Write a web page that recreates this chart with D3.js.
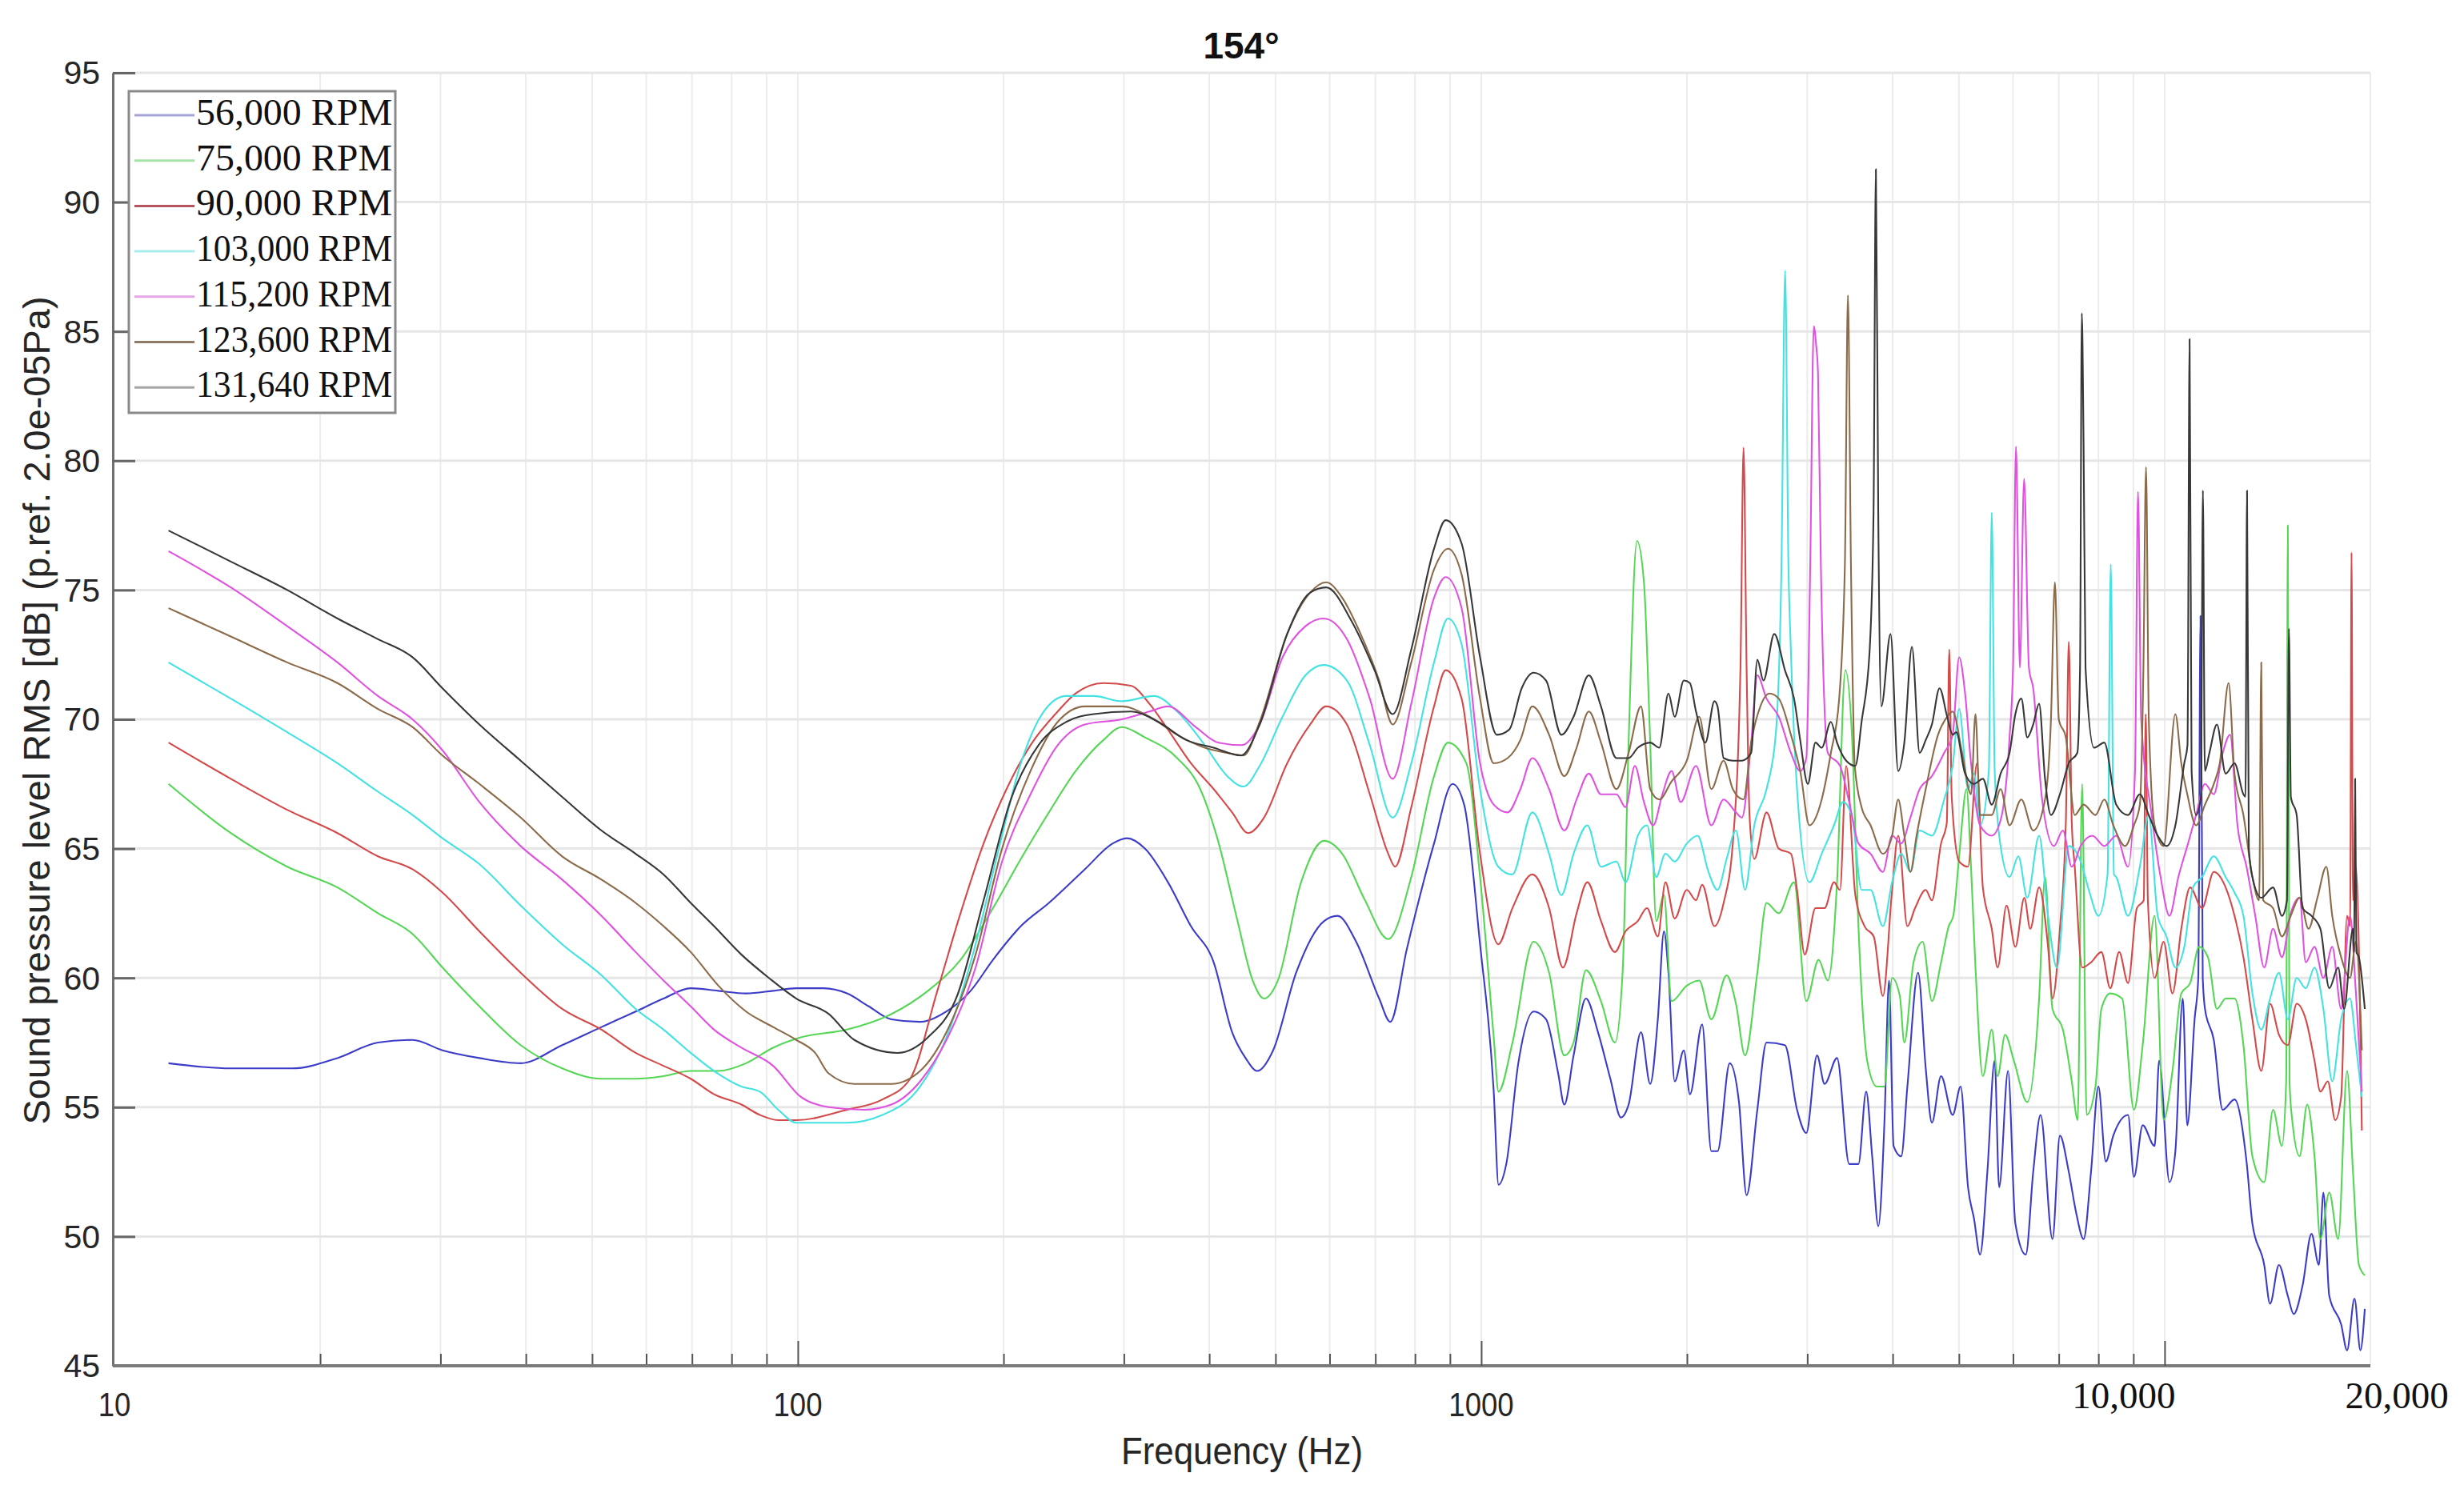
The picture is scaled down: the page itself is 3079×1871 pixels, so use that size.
<!DOCTYPE html>
<html><head><meta charset="utf-8">
<script src="https://cdn.jsdelivr.net/npm/d3@7"></script>
<style>
html,body{margin:0;padding:0;background:#fff;}
svg{display:block;}
</style></head><body>
<svg id="chart" width="3079" height="1871"></svg>
<script>
const title = "154°";
const xAxisTitle = "Frequency (Hz)";
const yAxisTitle = "Sound pressure level RMS [dB] (p.ref. 2.0e-05Pa)";
const categories = ["56,000 RPM","75,000 RPM","90,000 RPM","103,000 RPM","115,200 RPM","123,600 RPM","131,640 RPM"];
const yTickValues = [45,50,55,60,65,70,75,80,85,90,95];
const yTickLabels = ["45","50","55","60","65","70","75","80","85","90","95"];
const xTickValues = [10,100,1000,10000,20000];
const xTickLabels = ["10","100","1000","10,000","20,000"];

// [frequency Hz, dB]
const rpm56000 = [[12,56.7],[14.8,56.5],[18.2,56.5],[21.2,56.9],[24.3,57.5],[27.3,57.6],[30.2,57.2],[34.2,56.9],[39.3,56.7],[45.2,57.4],[51.6,58.1],[57.9,58.7],[63.6,59.2],[69.7,59.6],[76.5,59.5],[84,59.4],[92,59.5],[99.5,59.6],
[109,59.6],[118,59.4],[127,58.9],[137,58.4],[151,58.3],[165,58.7],[179,59.5],[193,60.7],[212,62.0],[233,62.9],[263,64.2],[289,65.2],[303,65.4],[322,65.0],[348,63.7],[376,62.0],[406,60.6],[432,57.9],[452,56.9],[470,56.4],[496,57.2],[536,60.2],[589,62.2],[616,62.4],[656,61.4],[709,59.2],[736,58.3],[778,61.1],[853,65.2],[908,67.5],[944,66.7],[996,61.3],[1043,55.6],
[1060,52.0],[1088,52.8],[1133,56.7],[1193,58.7],[1244,58.4],[1296,56.3],[1323,55.1],[1365,57.0],[1423,59.2],[1482,57.9],[1545,56.1],[1601,54.6],[1643,55.1],[1713,57.9],[1767,55.9],[1813,58.4],[1851,61.8],[1879,60.2],[1919,56.0],[1979,57.2],[2020,55.5],[2105,58.2],[2171,53.3],[2217,53.3],[2310,56.7],[2383,55.2],[2445,51.6],[2535,54.9],[2615,57.5],[2782,57.4],[2898,54.9],[2990,54.0],[3100,57.0],[3180,55.9],[3316,56.9],[3455,52.8],[3564,52.8],[3658,55.6],[3733,53.1],[3811,50.4],[3890,54.4],[3951,59.9],[4012,53.5],[4117,53.1],[4203,55.8],[4357,60.2],[4471,56.5],[4565,54.4],[4708,56.2],[4896,54.7],
[5029,55.8],[5156,51.9],[5260,50.7],[5369,49.3],[5503,52.5],[5640,56.8],[5726,51.9],[5900,56.4],[6047,50.5],[6264,49.3],[6422,52.5],[6584,54.7],[6853,49.9],[7026,53.9],[7240,52.5],[7424,50.9],[7611,49.9],[7803,52.5],[8000,55.8],[8202,52.9],[8411,53.9],[8840,54.7],[9018,52.3],[9287,54.3],[9668,53.5],[9817,56.8],[10165,52.1],[10368,53.3],[10630,59.2],[10793,54.3],[11062,58.4],[11200,60],[11285,74],[11370,60],[11456,58.8],[11801,57.6],[12160,54.9],[12655,55.3],[13177,52.9],[13440,50.5],[13986,48.9],[14265,47.4],[14699,48.9],[15144,47.7],[15447,47.0],[15915,48.1],[16401,50.1],[16815,48.9],[17071,51.7],[17415,47.7],[18125,46.6],[18490,45.6],[18958,47.6],[19339,45.6],[19629,47.2]];

const rpm75000 = [[12,67.5],[14.8,65.6],[17.9,64.3],[21.2,63.5],[24.3,62.5],[27.3,61.7],[30.2,60.4],[34.2,58.9],[39.3,57.4],[45.2,56.5],[51.6,56.1],[57.9,56.1],[63.6,56.2],[69.7,56.4],[76.5,56.4],[84,56.7],[92,57.3],[101,57.7],
[118,58.0],[137,58.6],[155,59.5],[173,60.7],[193,62.7],[212,64.6],[233,66.4],[255,68.0],[280,69.2],[298,69.7],[322,69.3],[359,68.5],[388,67.3],[412,65.3],[439,62.3],[463,59.9],[481,59.2],[504,59.9],[545,63.7],[589,65.3],[626,64.8],[676,63.0],[731,61.5],[790,63.9],[853,67.8],[894,69.1],[951,68.3],[996,63.9],[1043,57.7],
[1060,55.6],[1111,57.5],[1193,61.4],[1257,60.2],[1323,57.0],[1365,57.5],[1423,60.3],[1497,59.1],[1569,57.5],[1610,60.2],[1643,69.1],[1690,76.9],[1730,75.3],[1767,69.1],[1803,62.2],[1851,63.2],[1899,59.1],[1999,59.7],[2084,59.9],[2171,58.4],[2286,60.1],[2359,59.0],[2432,57.0],[2535,60.2],[2615,62.9],[2725,62.5],[2869,63.7],[2990,59.1],[3116,60.7],[3215,59.9],[3316,63.7],[3410,71.9],[3491,69.1],[3564,62.0],[3676,56.7],[3792,55.8],[3890,55.8],[3992,60.0],[4097,59.3],[4160,57.5],[4291,60.6],[4425,61.4],[4565,59.1],[4708,60.6],[4832,62.0],
[4906,62.4],[5004,64.7],[5130,67.3],[5208,64.3],[5287,60.4],[5420,56.2],[5585,58.0],[5697,56.2],[5841,57.8],[6017,56.8],[6295,55.2],[6551,59.2],[6683,63.9],[6853,58.8],[7097,58.0],[7313,56.0],[7461,54.5],[7573,67.5],[7688,54.7],[7921,55.8],[8080,58.8],[8327,59.4],[8666,59.2],[9018,54.9],[9287,57.4],[9668,62.4],[9966,54.5],[10267,56.4],[10577,59.4],[10898,59.8],[11230,61.2],[11570,60.8],[11926,58.8],[12282,59.2],[12655,59.2],[13040,57.4],[13440,53.1],[13986,52.1],[14407,54.9],[14847,53.5],[15060,56],[15144,77.5],[15230,56],[15370,54.5],[15757,53.1],[16163,55.1],[16568,53.1],[16900,49.9],[17415,51.7],[17945,49.9],[18490,56.4],[18862,52.5],[19243,48.9],[19629,48.5]];

const rpm90000 = [[12,69.1],[14.8,67.7],[17.9,66.5],[21.2,65.6],[24.3,64.7],[27.3,64.2],[30.2,63.3],[34.2,61.8],[39.3,60.2],[45.2,58.8],[51.6,58.0],[57.9,57.1],[63.6,56.6],[69.7,56.1],[75.4,55.5],[82.7,55.1],[88,54.7],[93.6,54.5],[99.5,54.5],
[118,54.9],[133,55.3],[146,56.1],[160,59.5],[173,62.5],[187,65.2],[202,67.3],[219,69.0],[240,70.3],[255,71.0],[280,71.4],[307,71.3],[327,70.6],[348,69.6],[376,68.3],[406,67.3],[432,66.4],[456,65.6],[481,66.2],[520,68.3],[562,69.8],[593,70.5],[636,69.8],[687,67.1],[731,64.8],[748,64.3],[790,66.6],[853,70.5],[887,71.9],[936,70.8],[996,64.8],[1059,61.3],[1111,62.7],
[1188,64.0],[1257,62.7],[1317,60.4],[1379,62.5],[1430,63.7],[1497,62.2],[1569,61.0],[1626,61.8],[1695,62.2],[1748,62.7],[1813,61.6],[1860,63.7],[1919,62.3],[1999,63.4],[2062,63.0],[2105,63.6],[2194,62.0],[2263,62.9],[2334,65.2],[2395,72],[2420,80.5],[2445,72],[2470,66.2],[2509,64.6],[2615,66.4],[2725,65.0],[2839,64.8],[2898,63.4],[2974,60.9],[3084,62.7],[3180,62.7],[3282,63.7],[3349,63.4],[3420,68.2],[3527,63.2],[3638,62.0],[3753,61.6],[3870,59.3],[3992,63.4],[4075,65.5],[4203,62.0],[4313,62.7],[4471,63.4],[4565,63.0],[4708,65.2],[4800,66],[4840,72.7],[4880,67],
[5004,64.5],[5156,64.3],[5313,68.3],[5420,63.5],[5585,61.9],[5697,60.4],[5870,62.8],[6047,61.2],[6233,63.1],[6358,61.9],[6551,63.5],[6751,61.2],[6853,59.2],[7026,61.9],[7168,66],[7240,73.0],[7313,66],[7387,64.3],[7573,60.4],[7803,60.6],[8080,61.0],[8327,59.6],[8580,61.0],[8840,59.8],[9108,62.7],[9320,63],[9383,70.2],[9450,63],[9668,60.0],[9966,61.4],[10267,59.4],[10577,61.9],[10898,63.5],[11342,62.7],[11801,64.1],[12282,63.5],[12655,62.4],[13040,60.8],[13440,58.4],[13848,56.4],[14265,59.0],[14699,57.8],[15144,57.4],[15602,59.0],[16086,58.4],[16568,56.8],[16900,55.6],[17328,56.0],[17766,54.5],[18125,55.4],[18490,62.4],[18680,62],[18770,76.45],[18860,63],[19052,64.3],[19434,54.1]];

const rpm103000 = [[12,72.2],[14.8,70.8],[17.9,69.5],[21.2,68.3],[24.3,67.2],[27.3,66.3],[30.2,65.4],[34.2,64.4],[39.3,62.8],[45.2,61.3],[51.6,60.1],[57.9,58.8],[63.6,58.0],[69.7,57.1],[75.4,56.4],[82.7,55.8],[88,55.6],[93.6,54.9],[99.5,54.4],
[118,54.4],[133,54.7],[151,55.8],[165,57.7],[182,61.3],[196,64.8],[212,68.3],[229,70.3],[247,70.9],[271,70.9],[298,70.7],[332,70.9],[359,70.3],[394,69.0],[425,67.8],[449,67.4],[474,68.2],[512,70.1],[553,71.7],[588,72.1],[636,71.5],[687,69.0],[742,66.2],[790,68.3],[853,72.2],[894,73.9],[936,72.9],[996,67.3],[1059,64.3],[1110,64.0],
[1188,66.4],[1257,64.8],[1310,63.2],[1365,64.8],[1430,65.9],[1497,64.3],[1577,64.5],[1626,63.7],[1695,65.5],[1748,65.9],[1803,63.9],[1860,64.8],[1919,64.5],[1999,65.2],[2073,65.5],[2150,64.1],[2217,63.4],[2286,64.6],[2359,65.7],[2432,63.4],[2509,65.9],[2615,67.3],[2697,69.4],[2750,76],[2784,87.35],[2815,76],[2839,72.6],[2898,67.3],[3021,63.7],[3149,64.8],[3282,65.9],[3385,66.8],[3491,66.2],[3602,63.4],[3713,63.4],[3870,62.0],[3992,63.7],[4117,64.8],[4246,64.1],[4380,65.7],[4565,65.5],[4757,66.9],[4896,68.2],
[5004,70.4],[5156,67.3],[5260,67.9],[5369,65.9],[5530,68],[5585,78.0],[5640,68],[5754,65.1],[5930,63.9],[6109,64.7],[6295,63.1],[6551,65.5],[6751,62.4],[6956,60.4],[7240,65.1],[7536,64.5],[7765,63.3],[8000,62.4],[8250,64],[8340,76.0],[8430,64],[8495,63.9],[8840,62.4],[9199,64.3],[9477,66.3],[9768,62.4],[10064,61.6],[10368,60.4],[10684,61.2],[11004,63.5],[11342,63.9],[11801,64.7],[12282,63.9],[12655,63.3],[13040,62.4],[13440,59.4],[13848,58.0],[14265,59.2],[14699,60.2],[15144,58.4],[15602,60.0],[16086,59.6],[16568,60.4],[17071,58.8],[17589,56.0],[18125,58.4],[18675,59.2],[19052,57.4],[19434,55.4]];

const rpm115200 = [[12,76.5],[14.8,75.1],[17.9,73.6],[21.2,72.2],[24.3,70.9],[27.3,70.0],[30.2,68.8],[34.2,66.8],[39.3,65.1],[45.2,63.8],[51.6,62.4],[57.9,61.0],[63.6,59.9],[69.7,58.9],[75.4,58.0],[82.7,57.3],[92,56.6],[101,55.4],[111,55.0],
[125,54.9],[137,55.1],[151,56.0],[165,57.6],[182,60.4],[199,64.5],[219,67.1],[240,69.0],[263,69.8],[298,70.0],[327,70.3],[348,70.5],[382,69.7],[412,69.1],[446,69.0],[474,69.8],[512,72.4],[553,73.6],[588,73.9],[636,73.1],[687,70.8],[742,67.7],[790,70.6],[853,74.7],[887,75.5],[936,74.3],[996,68.3],[1043,66.7],[1093,66.4],[1141,67.3],
[1188,68.5],[1257,67.3],[1323,65.7],[1379,66.9],[1437,67.9],[1497,67.1],[1577,67.1],[1626,66.6],[1678,68.2],[1730,66.8],[1785,65.9],[1841,67.1],[1899,68.0],[1958,66.8],[2062,68.2],[2171,65.9],[2263,66.9],[2359,66.4],[2407,66.2],[2483,69.1],[2535,71.7],[2615,70.8],[2725,70.1],[2839,68.7],[2929,68.0],[2990,68.5],[3030,76],[3066,85.2],[3090,84.5],[3110,83.4],[3140,76],[3215,68.7],[3349,68.2],[3455,66.8],[3564,65.2],[3713,64.8],[3870,64.1],[3992,65.5],[4117,65.2],[4246,66.2],[4380,67.3],[4565,67.8],[4757,68.7],[4896,69.4],
[5004,72.4],[5105,71.0],[5208,68.3],[5369,65.9],[5585,65.5],[5754,66.1],[5930,69.3],[6000,72],[6060,80.55],[6140,72],[6228,79.3],[6330,72],[6422,71.2],[6617,66.9],[6887,65.1],[7097,65.7],[7313,64.3],[7536,65.1],[7840,65.5],[8161,65.1],[8495,65.5],[8840,64.3],[9050,68],[9141,78.8],[9240,70],[9572,66.3],[9865,63.9],[10165,62.4],[10472,63.9],[10793,65.1],[11118,66.3],[11456,67.5],[11801,67.1],[12160,68.7],[12467,69.4],[12782,65.9],[13177,64.3],[13572,62.4],[13986,60.4],[14407,61.9],[14847,60.8],[15294,62.5],[15757,63.1],[16086,60.6],[16568,61.2],[17071,60.0],[17589,61.2],[18125,58.8],[18675,62.4],[19052,59.4],[19434,55.6]];

const rpm123600 = [[12,74.3],[14.8,73.2],[17.9,72.2],[21.2,71.4],[24.3,70.4],[27.3,69.7],[30.2,68.6],[34.2,67.5],[39.3,66.2],[45.2,64.7],[51.6,63.8],[57.9,62.9],[63.6,62.0],[69.7,61.0],[76.5,59.7],[84,58.7],[92,58.1],[99.5,57.6],[106,57.1],
[111,56.3],[121,55.9],[137,55.9],[151,56.4],[165,57.9],[182,60.9],[199,65.0],[219,68.0],[240,69.9],[263,70.5],[298,70.5],[327,70.1],[359,69.4],[394,68.9],[425,68.7],[449,68.6],[474,69.9],[520,73.3],[562,74.9],[593,75.3],[626,74.7],[666,73.3],[709,71.5],[742,69.8],[790,72.2],[853,75.8],[894,76.6],[936,75.6],[996,70.8],[1043,68.3],[1093,68.5],[1141,69.2],
[1188,70.5],[1257,69.4],[1323,67.8],[1379,68.9],[1437,70.3],[1497,69.1],[1577,67.3],[1643,68.7],[1713,70.5],[1767,67.3],[1822,66.9],[1899,67.6],[1999,68.4],[2084,70.1],[2171,67.3],[2263,68.4],[2334,67.3],[2420,66.9],[2483,69.1],[2561,70.5],[2642,71.0],[2725,70.8],[2839,69.4],[2929,68.0],[3021,65.9],[3149,66.9],[3248,68.7],[3340,70.8],[3405,76],[3440,86.4],[3475,76],[3520,68.2],[3602,66.6],[3713,65.9],[3870,64.8],[3992,65.5],[4075,66.9],[4160,65.5],[4246,64.1],[4335,65.5],[4471,67.3],[4660,69.4],[4806,70.1],[4896,70.3],
[5054,68.7],[5208,67.1],[5287,70.2],[5369,66.3],[5585,66.3],[5754,67.3],[5930,65.9],[6170,66.9],[6422,65.7],[6683,66.9],[6818,70],[6909,75.3],[7000,70],[7168,69.3],[7387,66.3],[7611,66.7],[7921,66.3],[8161,66.9],[8411,65.9],[8753,65.1],[9018,65.9],[9199,66.7],[9310,72],[9392,79.75],[9480,70],[9668,65.9],[9966,65.1],[10368,70.2],[10577,68.3],[10793,67.1],[11118,65.9],[11456,66.7],[11801,67.5],[12042,68.3],[12405,71.4],[12655,67.9],[13040,66.3],[13440,63.9],[13750,63],[13848,72.2],[13940,63],[14407,62.7],[14847,61.6],[15294,62.4],[15757,63.1],[16238,61.9],[16733,63.1],[17242,64.3],[17589,62.4],[18125,60.8],[18675,60.0],[19052,61.4],[19434,57.2]];

const rpm131640 = [[12,77.3],[14.8,76.1],[17.9,75.0],[21.2,73.9],[24.3,73.1],[27.3,72.4],[30.2,71.2],[34.2,69.8],[39.3,68.4],[45.2,67.0],[51.6,65.7],[57.9,64.8],[63.6,64.0],[69.7,62.9],[75.4,62.0],[82.7,60.9],[90.7,60.0],[99.5,59.2],
[111,58.6],[121,57.6],[140,57.1],[155,57.7],[171,59.3],[187,63.0],[205,66.9],[225,69.0],[247,69.9],[271,70.2],[307,70.3],[337,69.9],[370,69.2],[406,68.9],[445,68.6],[474,69.8],[520,73.3],[562,74.9],[593,75.1],[646,73.8],[698,71.9],[742,70.2],[790,72.7],[853,76.6],[887,77.7],[936,76.8],[996,72.4],[1054,69.4],[1099,69.6],
[1146,71.2],[1193,71.8],[1244,71.5],[1310,69.4],[1365,70.1],[1437,71.7],[1497,70.5],[1577,68.5],[1643,68.5],[1695,68.9],[1767,69.1],[1822,68.9],[1879,71.0],[1919,70.1],[1979,71.5],[2020,71.4],[2062,70.3],[2128,69.1],[2194,70.7],[2217,70.5],[2263,68.5],[2334,68.4],[2407,68.4],[2483,68.7],[2535,72.3],[2588,71.5],[2684,73.3],[2782,71.9],[2869,70.8],[2929,69.2],[3005,67.5],[3084,69.1],[3149,68.9],[3248,69.9],[3316,69.1],[3420,68.4],[3527,68.2],[3602,69.9],[3700,72.6],[3750,78],[3780,91.27],[3810,78],[3850,70.5],[3971,73.3],[4075,68.0],[4160,69.1],[4268,72.8],[4380,68.7],[4471,69.2],[4565,69.8],[4684,71.2],[4806,70.1],[4896,69.4],
[4955,69.5],[5105,67.9],[5260,67.5],[5420,67.7],[5585,66.7],[5754,67.9],[5930,68.7],[6047,70.2],[6170,70.8],[6295,69.3],[6422,69.8],[6551,70.6],[6683,67.7],[6818,66.3],[7026,67.1],[7240,68.3],[7450,68.7],[7520,72],[7565,85.7],[7610,80.6],[7660,72],[7882,68.9],[8161,69.1],[8495,66.7],[8840,66.3],[9199,67.1],[9477,66.3],[9768,65.5],[10064,65.1],[10368,65.9],[10684,68.3],[10800,69],[10877,84.7],[10950,68],[11118,66.3],[11300,67],[11376,78.85],[11450,68],[11628,68.7],[11926,69.8],[12282,67.9],[12655,68.3],[13040,67.1],[13130,67],[13200,78.84],[13280,65],[13440,63.9],[13848,63.1],[14407,63.5],[14847,62.4],[15100,63],[15200,73.5],[15300,67],[15602,66.3],[15915,62.7],[16401,62.4],[16900,61.9],[17415,59.6],[17945,60.4],[18306,58.8],[18862,61.9],[18930,61],[19000,67.7],[19080,61],[19243,60.8],[19629,58.8]];

const seriesData = [rpm56000, rpm75000, rpm90000, rpm103000, rpm115200, rpm123600, rpm131640];
const lineColors = ["#3c3cc8","#55d655","#d44a4a","#44e2e2","#e052e0","#8b6b4a","#383838"];
const legendColors = ["#a3a3d6","#a6e3a6","#b5545f","#a9ecec","#e6a6e6","#8f7b69","#a6a6a6"];

const svg = d3.select("#chart");
const axisX = 141, xStart = 143, xEnd = 2962, plotTop = 91, plotBottom = 1707;
const x = d3.scaleLog().domain([10, 20000]).range([xStart, xEnd]);
const y = d3.scaleLinear().domain([45, 95]).range([plotBottom, plotTop]);

svg.append("rect").attr("width", 3079).attr("height", 1871).attr("fill", "#fff");

// minor frequency values
const minorVals = [];
[10,100,1000,10000].forEach(d => { for (let m = 1; m <= 9; m++) { const v = d*m; if (v > 10 && v < 20000) minorVals.push(v); } });
minorVals.push(20000);

// grid
const grid = svg.append("g");
grid.selectAll("line.v").data(minorVals).join("line")
  .attr("x1", d => x(d)).attr("x2", d => x(d)).attr("y1", plotTop).attr("y2", plotBottom)
  .attr("stroke", "#ececec").attr("stroke-width", 2);
grid.selectAll("line.h").data(yTickValues.filter(v => v > 45)).join("line")
  .attr("x1", axisX).attr("x2", xEnd).attr("y1", d => y(d)).attr("y2", d => y(d))
  .attr("stroke", "#e6e6e6").attr("stroke-width", 3);

// series lines
const line = d3.line().x(d => x(d[0])).y(d => y(d[1])).curve(d3.curveMonotoneX);
const plot = svg.append("g");
seriesData.forEach((s, i) => {
  plot.append("path").datum(s).attr("d", line).attr("fill", "none")
    .attr("stroke", lineColors[i]).attr("stroke-width", 2.1).attr("stroke-linejoin", "round");
});

// axes
const yAxis = d3.axisLeft(y).tickValues(yTickValues).tickSize(-28).tickSizeOuter(0).tickFormat("");
const gy = svg.append("g").attr("transform", `translate(${axisX},0)`).call(yAxis);
gy.select(".domain").attr("stroke", "#707070").attr("stroke-width", 3);
gy.selectAll(".tick line").attr("stroke", "#666").attr("stroke-width", 3);

const xMinorAxis = d3.axisBottom(x).tickValues(minorVals.filter(v => ![100,1000,10000,20000].includes(v))).tickSize(-15).tickSizeOuter(0).tickFormat("");
const gxm = svg.append("g").attr("transform", `translate(0,${plotBottom})`).call(xMinorAxis);
gxm.select(".domain").remove();
gxm.selectAll(".tick line").attr("stroke", "#555").attr("stroke-width", 2);

const xMajorAxis = d3.axisBottom(x).tickValues([100,1000,10000]).tickSize(-31).tickSizeOuter(0).tickFormat("");
const gx = svg.append("g").attr("transform", `translate(0,${plotBottom})`).call(xMajorAxis);
gx.select(".domain").attr("d", `M${axisX},0H${xEnd}`).attr("stroke", "#7a7a7a").attr("stroke-width", 4);
gx.selectAll(".tick line").attr("stroke", "#555").attr("stroke-width", 2);

// y tick labels
svg.append("g").selectAll("text").data(yTickValues).join("text")
  .attr("x", 125).attr("y", d => y(d)).attr("dy", "0.35em")
  .attr("text-anchor", "end").attr("font-family", "Liberation Sans, Arial, sans-serif")
  .attr("font-size", 41).attr("fill", "#262626")
  .text((d, i) => yTickLabels[i]);

// x tick labels
const xl = svg.append("g");
xTickValues.forEach((v, i) => {
  const lab = xTickLabels[i];
  if (v < 10000) {
    xl.append("text").attr("transform", `translate(${x(v)},1770) scale(0.87,1)`)
      .attr("text-anchor", "middle").attr("font-family", "Liberation Sans, Arial, sans-serif")
      .attr("font-size", 42).attr("fill", "#262626").text(lab);
  } else {
    const dx = v === 10000 ? -51 : 33;
    xl.append("text").attr("x", x(v) + dx).attr("y", 1760)
      .attr("text-anchor", "middle").attr("font-family", "Liberation Serif, Times New Roman, serif")
      .attr("font-size", 47).attr("fill", "#111").text(lab);
  }
});

// titles
svg.append("text").attr("x", 1551).attr("y", 73).attr("text-anchor", "middle")
  .attr("font-family", "Liberation Sans, Arial, sans-serif").attr("font-weight", "bold")
  .attr("font-size", 46).attr("fill", "#111").text(title);
svg.append("text").attr("x", 1552).attr("y", 1830).attr("text-anchor", "middle")
  .attr("font-family", "Liberation Sans, Arial, sans-serif").attr("font-size", 48)
  .attr("textLength", 302).attr("lengthAdjust", "spacingAndGlyphs")
  .attr("fill", "#262626").text(xAxisTitle);
svg.append("text").attr("transform", "translate(62,888) rotate(-90)").attr("text-anchor", "middle")
  .attr("font-family", "Liberation Sans, Arial, sans-serif").attr("font-size", 47)
  .attr("textLength", 1035).attr("lengthAdjust", "spacingAndGlyphs")
  .attr("fill", "#262626").text(yAxisTitle);

// legend
const lg = svg.append("g");
lg.append("rect").attr("x", 161).attr("y", 114).attr("width", 333).attr("height", 402)
  .attr("fill", "#fff").attr("stroke", "#8a8a8a").attr("stroke-width", 3);
categories.forEach((c, i) => {
  const ly = 144 + i * 56.7;
  lg.append("line").attr("x1", 168).attr("x2", 243).attr("y1", ly).attr("y2", ly)
    .attr("stroke", legendColors[i]).attr("stroke-width", 3);
  lg.append("text").attr("x", 245).attr("y", ly + 12)
    .attr("font-family", "Liberation Serif, Times New Roman, serif").attr("font-size", 47)
    .attr("textLength", 245).attr("lengthAdjust", "spacingAndGlyphs")
    .attr("fill", "#111").text(c);
});
</script>
</body></html>
